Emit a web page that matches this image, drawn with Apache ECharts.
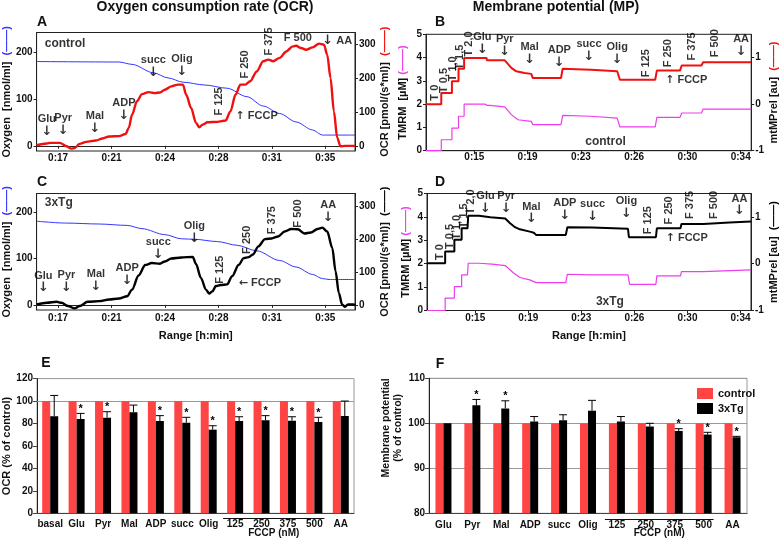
<!DOCTYPE html>
<html><head><meta charset="utf-8">
<script src="https://cdn.jsdelivr.net/npm/echarts@6/dist/echarts.min.js"></script>
<style>html,body{margin:0;padding:0;background:#fff}#c{width:780px;height:538px}</style>
</head><body><div id="c"></div>
<script>
// ---------- tick labels ----------
const ocrTimeTicks = [17, 20.6, 24.2, 27.8, 31.4, 35];
const mpTimeTicks = [15, 18.8, 22.6, 26.4, 30.2, 34];
const oxygenTicks = [0, 100, 200];
const ocrRateTicks = [0, 100, 200, 300];
const mtmpTicks = [-1, 0, 1];

// ---------- panel A (control) : [time min, value] ----------
const ocrControl = [[15.55,3],[16.24,8],[16.46,10],[17.12,10],[17.56,0],[17.89,-7],[18.11,-5],[18.45,7],[18.89,13],[19.55,17],[19.99,23],[20.44,29],[21.10,30],[21.54,36],[21.76,54],[21.98,93],[22.31,133],[22.65,154],[23.09,160],[23.53,157],[23.86,159],[24.19,167],[24.63,177],[25.08,182],[25.41,182],[25.63,152],[25.96,113],[26.29,69],[26.51,56],[26.73,64],[27.07,71],[27.73,72],[28.28,76],[28.61,103],[28.95,152],[29.28,182],[29.61,182],[29.94,192],[30.38,221],[30.82,251],[31.16,256],[31.49,251],[31.93,261],[32.37,280],[32.81,295],[33.03,297],[33.37,290],[33.70,285],[34.14,292],[34.58,303],[34.91,300],[35.13,270],[35.35,202],[35.58,103],[35.80,25],[36.02,0],[36.35,1],[37.0,1]];
const oxygenControl = [[15.55,180],[21.10,179],[21.98,174],[23.42,156],[24.41,145],[25.41,136],[26.85,130],[28.39,123],[29.72,105],[30.82,85],[31.93,69],[33.03,51],[34.14,34],[34.80,23],[37.0,23]];
// ---------- panel C (3xTg) ----------
const ocrTg = [[15.57,2],[16.24,7],[16.90,10],[17.23,7],[17.67,-3],[18.11,-10],[18.45,-3],[18.99,10],[19.77,12],[20.44,17],[21.10,20],[21.65,27],[21.98,47],[22.42,90],[22.87,122],[23.31,128],[23.86,126],[24.19,133],[24.63,142],[25.30,145],[26.07,147],[26.29,125],[26.62,83],[26.96,47],[27.18,35],[27.40,42],[27.62,58],[27.95,61],[28.39,63],[28.72,88],[29.17,123],[29.50,143],[29.83,146],[30.12,154],[30.49,179],[30.94,201],[31.38,203],[31.82,209],[32.26,224],[32.70,232],[33.15,231],[33.59,218],[34.03,221],[34.47,232],[34.80,236],[35.13,224],[35.47,174],[35.69,103],[35.91,37],[36.13,2],[36.31,-5],[36.53,2],[36.90,2],[37.0,-1]];
const oxygenTg = [[15.57,181],[17.56,177],[19.77,175],[21.65,172],[22.65,165],[24.19,152],[25.30,143],[26.18,142],[27.73,137],[29.06,129],[30.38,117],[31.93,96],[33.03,82],[34.14,66],[34.80,57],[35.25,55],[37.0,55]];
// ---------- panel B (control) ----------
const mtmpControl = [[11.55,0],[12.64,0],[12.64,0.24],[13.40,0.24],[13.40,0.49],[13.87,0.49],[13.87,0.76],[14.27,0.76],[14.27,0.99],[15.87,0.99],[15.9,0.94],[17.17,0.94],[17.29,0.92],[17.64,0.78],[17.99,0.705],[18.58,0.67],[19.06,0.65],[19.17,0.65],[19.17,0.56],[21.18,0.56],[21.30,0.76],[23.30,0.74],[25.19,0.705],[25.31,0.705],[25.38,0.525],[27.90,0.525],[28.02,0.72],[29.67,0.72],[29.79,0.83],[31.20,0.83],[31.32,0.90],[34.75,0.90]];
const tmrmControl = [[11.55,0],[12.64,0],[12.64,0.47],[13.40,0.47],[13.40,0.97],[13.87,0.97],[13.87,1.48],[14.27,1.48],[14.27,2.0],[15.75,2.0],[15.9,1.95],[16.11,1.95],[16.2,1.88],[17.17,1.88],[17.64,1.55],[18.11,1.33],[19.06,1.26],[19.17,1.26],[19.17,1.12],[21.18,1.12],[21.30,1.52],[23.30,1.48],[25.19,1.40],[25.31,1.40],[25.38,1.02],[27.90,1.02],[28.02,1.43],[29.67,1.43],[29.79,1.62],[31.20,1.62],[31.32,1.79],[34.75,1.79]];
// ---------- panel D (3xTg) ----------
const mtmpTg = [[11.55,0.01],[12.85,0.01],[12.85,0.26],[13.51,0.26],[13.51,0.51],[14.03,0.51],[14.03,0.755],[14.45,0.755],[14.5,1.025],[15.27,1.025],[15.3,0.995],[16.09,0.995],[16.15,0.97],[17.15,0.965],[17.50,0.865],[17.85,0.78],[18.20,0.735],[18.91,0.685],[19.2,0.66],[19.37,0.615],[21.49,0.615],[21.60,0.78],[23.36,0.775],[23.4,0.755],[25.94,0.745],[26.01,0.565],[27.94,0.565],[28.01,0.755],[29.70,0.755],[29.77,0.85],[31.34,0.85],[31.45,0.88],[33.21,0.88],[33.3,0.90],[34.75,0.90]];
const tmrmTg = [[11.55,0],[12.85,0],[12.85,0.53],[13.51,0.53],[13.51,1.02],[14.03,1.02],[14.03,1.52],[14.45,1.52],[14.5,2.02],[15.27,2.02],[15.3,1.98],[16.21,1.98],[16.25,1.92],[17.15,1.92],[17.75,1.6],[18.20,1.41],[18.91,1.31],[19.37,1.19],[21.49,1.19],[21.60,1.55],[23.36,1.52],[25.94,1.52],[26.06,1.12],[27.94,1.12],[28.01,1.48],[29.70,1.48],[29.77,1.66],[31.34,1.66],[31.45,1.74],[34.75,1.74]];

// ---------- annotations [text, time, value, kind] ; {a|..} = arrow glyph ----------
const annA = [['control',16.1,302,'l'],['Glu\n{a|↓}',16.24,25,'b'],['Pyr\n{a|↓}',17.34,27,'b'],['Mal\n{a|↓}',19.48,32,'b'],['ADP\n{a|↓}',21.43,71,'b'],['succ\n{a|↓}',23.42,199,'b'],['Olig\n{a|↓}',25.34,202,'b'],['F 125',27.84,91,'r'],['F 250',29.61,200,'r'],['F 375',31.22,268,'r'],['F 500',33.15,320,'c'],['{a|↓} AA',34.80,312,'l'],['{s|↑} FCCP',28.95,89,'l']];
const annC = [['3xTg',16.1,313,'l'],['Glu\n{a|↓}',16.01,32,'b'],['Pyr\n{a|↓}',17.56,34,'b'],['Mal\n{a|↓}',19.55,37,'b'],['ADP\n{a|↓}',21.65,55,'b'],['succ\n{a|↓}',23.75,135,'b'],['Olig\n{a|↓}',26.18,184,'b'],['F 125',27.88,65,'r'],['F 250',29.72,156,'r'],['F 375',31.44,216,'r'],['F 500',33.14,236,'r'],['AA\n{a|↓}',35.20,246,'b'],['{s|←} FCCP',29.17,66,'l']];
const annB = [['T 0',12.22,2.15,'r'],['T 0,5',12.81,2.48,'r'],['T 1,0',13.47,2.98,'r'],['T 1,5',13.94,3.48,'r'],['T 2,0',14.58,4.05,'r'],['Glu\n{a|↓}',15.57,4.05,'b'],['Pyr\n{a|↓}',17.17,3.98,'b'],['Mal\n{a|↓}',18.94,3.62,'b'],['ADP\n{a|↓}',21.06,3.52,'b'],['succ\n{a|↓}',23.18,3.77,'b'],['Olig\n{a|↓}',25.19,3.62,'b'],['F 125',27.26,3.15,'r'],['F 250',28.84,3.58,'r'],['F 375',30.50,3.87,'r'],['F 500',32.15,4.01,'r'],['AA\n{a|↓}',34.03,3.98,'b'],['{s|↑} FCCP',28.61,3.02,'l'],['control',24.36,0.40,'c']];
const annD = [['T 0',12.45,2.16,'r'],['T 0,5',13.16,2.63,'r'],['T 1,0',13.70,3.02,'r'],['T 1,5',14.17,3.51,'r'],['T 2,0',14.73,4.11,'r'],['Glu\n{a|↓}',15.74,4.08,'b'],['Pyr\n{a|↓}',17.22,4.08,'b'],['Mal\n{a|↓}',19.02,3.63,'b'],['ADP\n{a|↓}',21.42,3.77,'b'],['succ\n{a|↓}',23.41,3.73,'b'],['Olig\n{a|↓}',25.83,3.87,'b'],['F 125',27.35,3.26,'r'],['F 250',28.87,3.68,'r'],['F 375',30.40,3.91,'r'],['F 500',32.11,3.91,'r'],['AA\n{a|↓}',33.92,3.97,'b'],['{s|↑} FCCP',28.64,3.09,'l'],['3xTg',24.65,0.38,'c']];

// ---------- panel E ----------
const catsE = ['basal','Glu','Pyr','Mal','ADP','succ','Olig','125','250','375','500','AA'];
const ocrPctControl = [100,100,100,100,100,100,100,100,100,100,100,100];
const ocrPctTg = [86.5,84,85.2,90,82.2,80.7,74.5,82.2,82.8,82.5,81.3,86.6];
const ocrPctTgErr = [105,89,90.5,96.4,87,85.5,78,86,87,86,85.5,100];
const ocrPctStar = [0,1,1,0,1,1,1,1,1,1,1,0];
// ---------- panel F ----------
const catsF = ['Glu','Pyr','Mal','ADP','succ','Olig','125','250','375','500','AA'];
const mpPctControl = [100,100,100,100,100,100,100,100,100,100,100];
const mpPctTg = [100,104,103.3,100.4,100.7,102.8,100.4,99.3,98.3,97.5,96.9];
const mpPctTgErr = [100,105.3,105,101.5,101.9,105.1,101.5,100,98.8,98,97.1];
const mpPctStar = [0,1,1,0,0,0,0,0,1,1,1];
const fccpCats = ['125','500'];

const FONT = '"Liberation Sans", Arial, "DejaVu Sans", sans-serif';
const RED = '#f01010', BLUE = '#3535ff', MAG = '#ee3cee', BARRED = '#ff4444';
const tfmt = v => '0:' + Math.round(v);

function annSeries(arr, xi, yi) {
  return {
    type: 'scatter', xAxisIndex: xi, yAxisIndex: yi, symbolSize: 0, silent: true, z: 10,
    data: arr.map(([text, t, v, kind]) => {
      const l = {show: true, formatter: text, position: [0, 0], color: '#000',
        textBorderWidth: 0, textShadowBlur: 0,
        fontFamily: FONT, fontWeight: 'bold', fontSize: 11, lineHeight: 12,
        rich: {a: {fontFamily: '"DejaVu Sans", sans-serif', fontSize: 13, lineHeight: 13, color: '#000'},
               s: {fontFamily: '"DejaVu Sans", sans-serif', fontSize: 11, color: '#000'}}};
      if (kind === 'b') { l.align = 'center'; l.verticalAlign = 'bottom'; }
      else if (kind === 'r') { l.rotate = 90; l.align = 'left'; l.verticalAlign = 'middle'; }
      else if (kind === 'c') { l.align = 'center'; l.verticalAlign = 'middle'; }
      else { l.align = 'left'; l.verticalAlign = 'middle'; }
      if (text === 'control' || text === '3xTg') l.fontSize = 12;
      return {value: [t, v], label: l};
    })
  };
}

function timeAxis(grid, min, max, ticks, withName, margin) {
  return {
    type: 'value', gridIndex: grid, min: min, max: max,
    name: withName ? 'Range [h:min]' : '', nameLocation: 'middle', nameGap: 20,
    nameTextStyle: {fontFamily: FONT, fontWeight: 'bold', fontSize: 11, color: '#111'},
    axisLine: {lineStyle: {color: '#222', width: 1}},
    axisTick: {customValues: ticks, length: 3, lineStyle: {color: '#222'}},
    axisLabel: {customValues: ticks, formatter: tfmt, fontFamily: FONT, fontWeight: 'bold', fontSize: 10, color: '#111', margin: margin},
    splitLine: {show: false}
  };
}
function valAxis(grid, pos, min, max, ticks, name, gap, extra) {
  const ax = {
    type: 'value', gridIndex: grid, position: pos, min: min, max: max,
    name: name, nameLocation: 'middle', nameRotate: 90, nameGap: gap,
    nameTextStyle: {fontFamily: FONT, fontWeight: 'bold', fontSize: 11, color: '#111', rich: {
      k: {fontFamily: FONT, fontWeight: 'bold', fontSize: 11, color: '#111'},
      blue: {color: BLUE, fontWeight: 'bold', fontSize: 11}, red: {color: RED, fontWeight: 'bold', fontSize: 11},
      mag: {color: MAG, fontWeight: 'bold', fontSize: 11}, blk: {color: '#000', fontWeight: 'bold', fontSize: 11}}},
    axisLine: {show: true, lineStyle: {color: '#222', width: 1}},
    axisTick: {show: true, length: 3, lineStyle: {color: '#222'}},
    axisLabel: {fontFamily: FONT, fontWeight: 'bold', fontSize: 10, color: '#111', margin: 4},
    splitLine: {show: false}
  };
  if (ticks) { ax.axisTick.customValues = ticks; ax.axisLabel.customValues = ticks; }
  return Object.assign(ax, extra || {});
}

function errSeries(xi, yi, tg, err, star, barW) {
  return {
    type: 'custom', xAxisIndex: xi, yAxisIndex: yi, silent: true, z: 5,
    data: tg.map((v, i) => [i, err[i], v, star[i]]),
    encode: {x: 0, y: 1},
    renderItem: function (params, api) {
      const i = api.value(0), top = api.value(1), base = api.value(2), st = api.value(3);
      const p1 = api.coord([i, top]), p0 = api.coord([i, base]);
      const x = p1[0] + barW / 2;
      const ch = [];
      if (top > base + 0.05) {
        ch.push({type: 'line', shape: {x1: x, y1: p0[1], x2: x, y2: p1[1]}, style: {stroke: '#000', lineWidth: 1}});
        ch.push({type: 'line', shape: {x1: x - 4, y1: p1[1], x2: x + 4, y2: p1[1]}, style: {stroke: '#000', lineWidth: 1}});
      }
      if (st) ch.push({type: 'text', x: x, y: p1[1] + 1, style: {text: '*', align: 'center', verticalAlign: 'bottom', font: 'bold 11px ' + FONT, fill: '#000'}});
      return {type: 'group', children: ch};
    }
  };
}

const catAxis = (grid, cats, margin) => ({
  type: 'category', gridIndex: grid, data: cats,
  axisLine: {lineStyle: {color: '#444'}}, axisTick: {show: false},
  axisLabel: {fontFamily: FONT, fontWeight: 'bold', fontSize: 10, color: '#111', margin: margin, interval: 0}
});

const chart = echarts.init(document.getElementById('c'), null, {renderer: 'canvas'});
const titleStyle = {fontFamily: FONT, fontWeight: 'bold', fontSize: 14, color: '#111'};
const letter = (t, x, y) => ({text: t, left: x, top: y, textAlign: 'center', padding: 0, textStyle: titleStyle});

chart.setOption({
  animation: false,
  backgroundColor: '#fff',
  title: [
    {text: 'Oxygen consumption rate (OCR)', left: 205, top: 0, textAlign: 'center', padding: 0, textStyle: titleStyle},
    {text: 'Membrane potential (MP)', left: 556, top: 0, textAlign: 'center', padding: 0, textStyle: titleStyle},
    letter('A', 42, 15), letter('B', 440, 15), letter('C', 42, 175), letter('D', 440, 175),
    letter('E', 46, 356), letter('F', 440, 357)
  ],
  legend: {
    data: ['control', '3xTg'], orient: 'vertical', left: 692, top: 383, itemWidth: 16, itemHeight: 11, itemGap: 4,
    icon: 'rect', textStyle: {fontFamily: FONT, fontWeight: 'bold', fontSize: 11, color: '#111'}
  },
  grid: [
    {left: 31, top: 32.5, width: 324, height: 118.5, show: true, borderColor: '#222', borderWidth: 1},
    {left: 31, top: 193.5, width: 324, height: 116.5, show: true, borderColor: '#222', borderWidth: 1},
    {left: 426, top: 34.3, width: 329, height: 116.4, show: true, borderColor: '#222', borderWidth: 1},
    {left: 427, top: 193.5, width: 328, height: 117, show: true, borderColor: '#222', borderWidth: 1},
    {left: 37, top: 378.6, width: 317, height: 134.7, show: true, borderColor: '#999', borderWidth: 1},
    {left: 429, top: 378.3, width: 318, height: 135, show: true, borderColor: '#999', borderWidth: 1}
  ],
  xAxis: [
    timeAxis(0, 15.55, 37.0, ocrTimeTicks, false, 2),
    timeAxis(1, 15.55, 37.0, ocrTimeTicks, true, 3),
    timeAxis(2, 11.55, 34.75, mpTimeTicks, false, 2),
    timeAxis(3, 11.55, 34.75, mpTimeTicks, true, 3),
    catAxis(4, catsE, 6),
    catAxis(5, catsF, 7)
  ],
  yAxis: [
    valAxis(0, 'left', -11, 242, oxygenTicks, '{k|Oxygen  [nmol/ml]}  {blue|(——)}', 21),
    valAxis(0, 'right', -14, 336, ocrRateTicks, '{k|OCR [pmol/(s*ml)]}  {red|(——)}', 18),
    valAxis(1, 'left', -11, 241, oxygenTicks, '{k|Oxygen  [nmol/ml]}  {blue|(——)}', 21),
    valAxis(1, 'right', -15, 340, ocrRateTicks, '{k|OCR [pmol/(s*ml)]}  {blk|(——)}', 20),
    valAxis(2, 'left', 0, 5, null, '{k|TMRM  [µM]} {mag|(——)}', 18, {interval: 1}),
    valAxis(2, 'right', -1, 1.5, mtmpTicks, '{k|mtMPrel [au]}  {red|(——)}', 15),
    valAxis(3, 'left', 0, 5, null, '{k|TMRM [µM]} {mag|(——)}', 16, {interval: 1}),
    valAxis(3, 'right', -1, 1.5, mtmpTicks, '{k|mtMPrel [au]}  {blk|(——)}', 17),
    valAxis(4, 'left', 0, 120, null, 'OCR (% of control)', 25, {interval: 20, axisTick: {show: true, length: 4, lineStyle: {color: '#444'}}}),
    valAxis(5, 'left', 80, 110, null, 'Membrane potential\n(% of control)', 19, {interval: 10,
      nameTextStyle: {fontFamily: FONT, fontWeight: 'bold', fontSize: 10.5, color: '#111', lineHeight: 12, padding: [0, 0, 0, 36]},
      splitLine: {show: true, lineStyle: {color: '#999', width: 1}}, axisTick: {show: true, length: 4, lineStyle: {color: '#444'}}})
  ],
  series: [
    // A
    {type: 'line', name: 'oxygen control', xAxisIndex: 0, yAxisIndex: 0, data: oxygenControl, showSymbol: false, smooth: 0.3, smoothMonotone: 'x', lineStyle: {color: BLUE, width: 1}, z: 2},
    {type: 'line', name: 'ocr control', xAxisIndex: 0, yAxisIndex: 1, data: ocrControl, showSymbol: false, smooth: 0.3, smoothMonotone: 'x', lineStyle: {color: RED, width: 2.4}, z: 3},
    // C
    {type: 'line', name: 'oxygen tg', xAxisIndex: 1, yAxisIndex: 2, data: oxygenTg, showSymbol: false, smooth: 0.3, smoothMonotone: 'x', lineStyle: {color: BLUE, width: 1}, z: 2},
    {type: 'line', name: 'ocr tg', xAxisIndex: 1, yAxisIndex: 3, data: ocrTg, showSymbol: false, smooth: 0.3, smoothMonotone: 'x', lineStyle: {color: '#000', width: 2.4}, z: 3},
    // B
    {type: 'line', name: 'tmrm control', xAxisIndex: 2, yAxisIndex: 4, data: tmrmControl, showSymbol: false, lineStyle: {color: MAG, width: 1.2}, z: 2},
    {type: 'line', name: 'mtmp control', xAxisIndex: 2, yAxisIndex: 5, data: mtmpControl, showSymbol: false, lineStyle: {color: RED, width: 2}, z: 3},
    // D
    {type: 'line', name: 'tmrm tg', xAxisIndex: 3, yAxisIndex: 6, data: tmrmTg, showSymbol: false, lineStyle: {color: MAG, width: 1.2}, z: 2},
    {type: 'line', name: 'mtmp tg', xAxisIndex: 3, yAxisIndex: 7, data: mtmpTg, showSymbol: false, lineStyle: {color: '#000', width: 2}, z: 3},
    annSeries(annA, 0, 1), annSeries(annC, 1, 3), annSeries(annB, 2, 4), annSeries(annD, 3, 6),
    // E
    {type: 'bar', name: 'control', xAxisIndex: 4, yAxisIndex: 8, data: ocrPctControl, barWidth: 8, barGap: '0%', itemStyle: {color: BARRED},
      markLine: {silent: true, symbol: 'none', label: {show: false}, lineStyle: {color: '#999', type: 'solid', width: 1}, data: [{yAxis: 100}], z: 1}},
    {type: 'bar', name: '3xTg', xAxisIndex: 4, yAxisIndex: 8, data: ocrPctTg, barWidth: 8, barGap: '0%', itemStyle: {color: '#000'}},
    errSeries(4, 8, ocrPctTg, ocrPctTgErr, ocrPctStar, 8),
    // F
    {type: 'bar', name: 'control', xAxisIndex: 5, yAxisIndex: 9, data: mpPctControl, barWidth: 8, barGap: '0%', itemStyle: {color: BARRED}},
    {type: 'bar', name: '3xTg', xAxisIndex: 5, yAxisIndex: 9, data: mpPctTg, barWidth: 8, barGap: '0%', itemStyle: {color: '#000'}},
    errSeries(5, 9, mpPctTg, mpPctTgErr, mpPctStar, 8)
  ]
});

// FCCP group line over the FCCP category labels (positions derived from the axes)
function fccpGraphic(xi, yi, yBase, lineY) {
  const a = chart.convertToPixel({xAxisIndex: xi, yAxisIndex: yi}, [fccpCats[0], yBase]);
  const b = chart.convertToPixel({xAxisIndex: xi, yAxisIndex: yi}, [fccpCats[1], yBase]);
  return [
    {type: 'line', shape: {x1: a[0] - 12, y1: lineY, x2: b[0] + 10, y2: lineY}, style: {stroke: '#111', lineWidth: 1}},
    {type: 'text', x: (a[0] + b[0]) / 2 - 1, y: 528, style: {text: 'FCCP (nM)', align: 'center', verticalAlign: 'top', font: 'bold 10px ' + FONT, fill: '#111'}}
  ];
}
chart.setOption({graphic: [].concat(fccpGraphic(4, 8, 0, 518.5), fccpGraphic(5, 9, 80, 519.5))});
</script></body></html>
